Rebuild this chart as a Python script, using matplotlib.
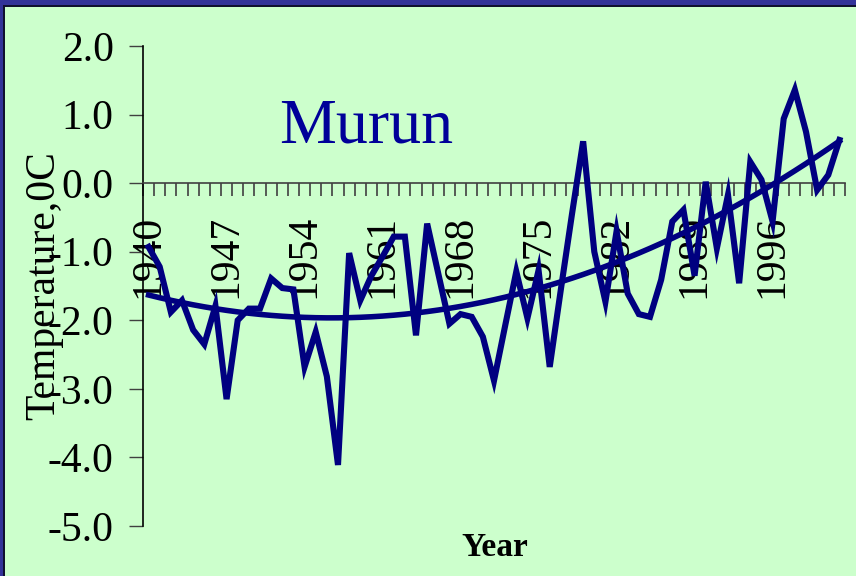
import numpy as np
import matplotlib
matplotlib.use("Agg")
import matplotlib.pyplot as plt
from matplotlib.patches import Rectangle
from matplotlib.ticker import FixedLocator, FormatStrFormatter, NullFormatter

# Annual mean temperature at Murun, 1940-2002
years = list(range(1940, 2003))
temps = [
    -0.93, -1.22, -1.88, -1.71, -2.14, -2.35, -1.79, -3.15, -2.00, -1.83,
    -1.83, -1.39, -1.53, -1.55, -2.68, -2.17, -2.82, -4.11, -1.02, -1.71,
    -1.35, -1.07, -0.78, -0.78, -2.22, -0.59, -1.32, -2.05, -1.91, -1.95,
    -2.24, -2.88, -2.08, -1.29, -1.97, -1.27, -2.68, -1.55, -0.45, 0.61,
    -1.00, -1.73, -0.70, -1.61, -1.91, -1.95, -1.41, -0.56, -0.39, -1.35,
    0.02, -0.95, -0.17, -1.46, 0.31, 0.05, -0.56, 0.94, 1.36, 0.75,
    -0.10, 0.12, 0.63,
]
label_years = [1940, 1947, 1954, 1961, 1968, 1975, 1982, 1989, 1996]
y_ticks = [2.0, 1.0, 0.0, -1.0, -2.0, -3.0, -4.0, -5.0]
trend_order = 2

SERIF = "Liberation Serif"
NAVY = "#000080"
BG = "#CCFFCC"
W, H = 856, 576

fig = plt.figure(figsize=(W / 100, H / 100), dpi=100, facecolor=BG)
ax = fig.add_axes([143 / W, 50 / H, 702 / W, 480 / H])
ax.set_facecolor("none")

n = len(years)
idx = np.arange(n)
ax.set_xlim(-0.5, n - 0.5)
ax.set_ylim(-5.0, 2.0)

# observed series and polynomial trend
ax.plot(idx, temps, color=NAVY, lw=4.4, solid_joinstyle="miter", zorder=3)
coef = np.polyfit(idx + 1, temps, trend_order)
ax.plot(idx, np.polyval(coef, idx + 1), color=NAVY, lw=4.0, zorder=3)

# axes lines
for s in ("top", "right"):
    ax.spines[s].set_visible(False)
ax.spines["left"].set_color("black")
ax.spines["left"].set_linewidth(1.2)
ax.spines["bottom"].set_position(("data", 0.0))
ax.spines["bottom"].set_color("#404040")
ax.spines["bottom"].set_linewidth(1.2)

# y axis
ax.yaxis.set_major_locator(FixedLocator(y_ticks))
ax.yaxis.set_major_formatter(FormatStrFormatter("%.1f"))
ax.tick_params(axis="y", direction="out", length=10, width=1.0, color="#404040",
               pad=11, labelsize=30)

# x axis: category boundaries as tick marks, labels every seventh year
ax.xaxis.set_minor_locator(FixedLocator(np.arange(n + 1) - 0.5))
ax.xaxis.set_minor_formatter(NullFormatter())
ax.xaxis.set_major_locator(FixedLocator([years.index(y) for y in label_years]))
ax.set_xticklabels([str(y) for y in label_years], rotation=90)
ax.tick_params(axis="x", which="minor", direction="out", length=9, width=1.2,
               color="#404040")
ax.tick_params(axis="x", which="major", length=0, pad=23, labelsize=30)

for lab in ax.get_xticklabels() + ax.get_yticklabels():
    lab.set_fontfamily(SERIF)

# title inside plot area
ax.text(0.318, 0.798, "Murun", transform=ax.transAxes, ha="center", va="baseline",
        fontsize=46, color="#000099", family=SERIF, zorder=4)

# axis titles
fig.text(44 / W, 1 - 286 / H, "Temperature,0C", rotation=90, ha="center", va="center",
         fontsize=30, family=SERIF, color="black")
fig.text(495 / W, 1 - 556 / H, "Year", ha="center", va="baseline",
         fontsize=24, fontweight="bold", family=SERIF, color="black")

# slide frame: blue band on top and left edges
fig.patches.append(Rectangle((0, 1 - 5 / H), 1, 5 / H, transform=fig.transFigure,
                             facecolor="#333399", edgecolor="none", zorder=0))
fig.patches.append(Rectangle((0, 1 - 7 / H), 1, 2 / H, transform=fig.transFigure,
                             facecolor="#101030", edgecolor="none", zorder=0))
fig.patches.append(Rectangle((0, 0), 3 / W, 1, transform=fig.transFigure,
                             facecolor="#333399", edgecolor="none", zorder=0))
fig.patches.append(Rectangle((3 / W, 0), 1.5 / W, 1 - 5 / H, transform=fig.transFigure,
                             facecolor="#101030", edgecolor="none", zorder=0))

fig.savefig("out.png", dpi=100, facecolor=BG)
